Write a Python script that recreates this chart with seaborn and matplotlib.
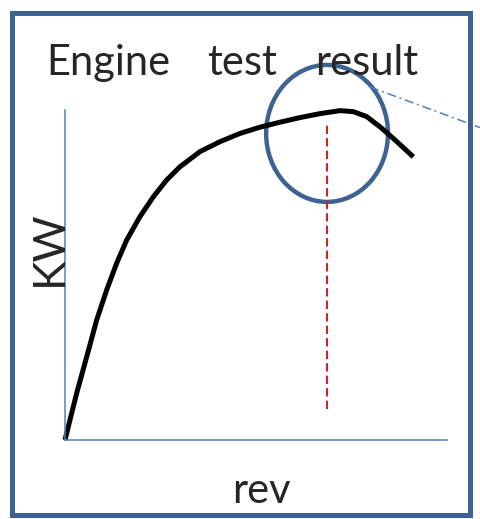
import pandas as pd
import matplotlib.pyplot as plt
import matplotlib.patches as mpatches
import seaborn as sns

# 곡선 데이터 (rev, KW) - 그림에서 읽은 값
rev = [0, 3.06, 5.68, 8.30, 10.92, 13.53, 16.15, 19.63, 23.12, 26.62, 30.10, 35.34,
       40.58, 45.81, 51.05, 56.28, 61.52, 66.75, 71.99, 75.47, 78.98, 82.46, 85.94, 91.18]
kw = [0, 14.2, 25.2, 36.4, 45.5, 53.6, 60.6, 67.7, 73.7, 78.8, 82.8, 87.4,
      90.4, 92.9, 94.8, 96.3, 97.7, 98.9, 99.8, 99.5, 98.0, 94.9, 91.4, 85.8]

peak_rev = 68.6          # 빨간 점선 위치
peak_line = [9.4, 95.5]  # 점선 아래/위 끝
title_words = ['Engine', 'test', 'result']
x_label = 'rev'
y_label = 'KW'

sns.set_style('white')
plt.rcParams['font.family'] = ['Lato', 'DejaVu Sans']

W, H = 481, 519
fig = plt.figure(figsize=(W / 100, H / 100), dpi=100)
ax = fig.add_axes([65 / W, 1 - 440 / H, (447 - 65) / W, (440 - 110) / H])

df = pd.DataFrame({'rev': rev, 'kw': kw})
sns.lineplot(data=df, x='rev', y='kw', ax=ax, color='black', linewidth=3.6,
             sort=False, errorbar=None, clip_on=False,
             solid_capstyle='butt', solid_joinstyle='round')

# 최대 출력 지점 점선
ax.plot([peak_rev, peak_rev], peak_line, color='#C8262B', linewidth=1.5,
        dashes=(4, 2), clip_on=False)

# 강조 원
ax.add_patch(mpatches.Ellipse((peak_rev, 92.9), 31.9, 41.5, fill=False,
                              edgecolor='#3E6392', linewidth=3.2, clip_on=False))

# 바깥으로 나가는 일점쇄선
ax.plot([79.8, 110], [107, 94.1], color='#4F81BD', linewidth=1.1,
        dashes=(6, 2.5, 1.2, 2.5), clip_on=False)

ax.set_xlim(0, 100)
ax.set_ylim(0, 100)
ax.set_xticks([])
ax.set_yticks([])
ax.set_xlabel('')
ax.set_ylabel('')
for side in ['top', 'right']:
    ax.spines[side].set_visible(False)
for side in ['left', 'bottom']:
    ax.spines[side].set_color('#4F81BD')
    ax.spines[side].set_linewidth(1.1)

# 텍스트
for word, cx in zip(title_words, [108.5, 242.5, 366.5]):
    fig.text(cx / W, 1 - 75 / H, word, ha='center', va='baseline', fontsize=30)
fig.text(261.5 / W, 1 - 503 / H, x_label, ha='center', va='baseline', fontsize=30)
fig.text(49 / W, 1 - 248 / H, y_label, ha='center', va='center', rotation=90, fontsize=32)

# 테두리
fig.patches.append(mpatches.Rectangle((11.5 / W, 1 - 515 / H), 459 / W, (515 - 12.5) / H,
                                      transform=fig.transFigure, fill=False,
                                      edgecolor='#3D6190', linewidth=3.6))

fig.savefig('out.png', dpi=100)
